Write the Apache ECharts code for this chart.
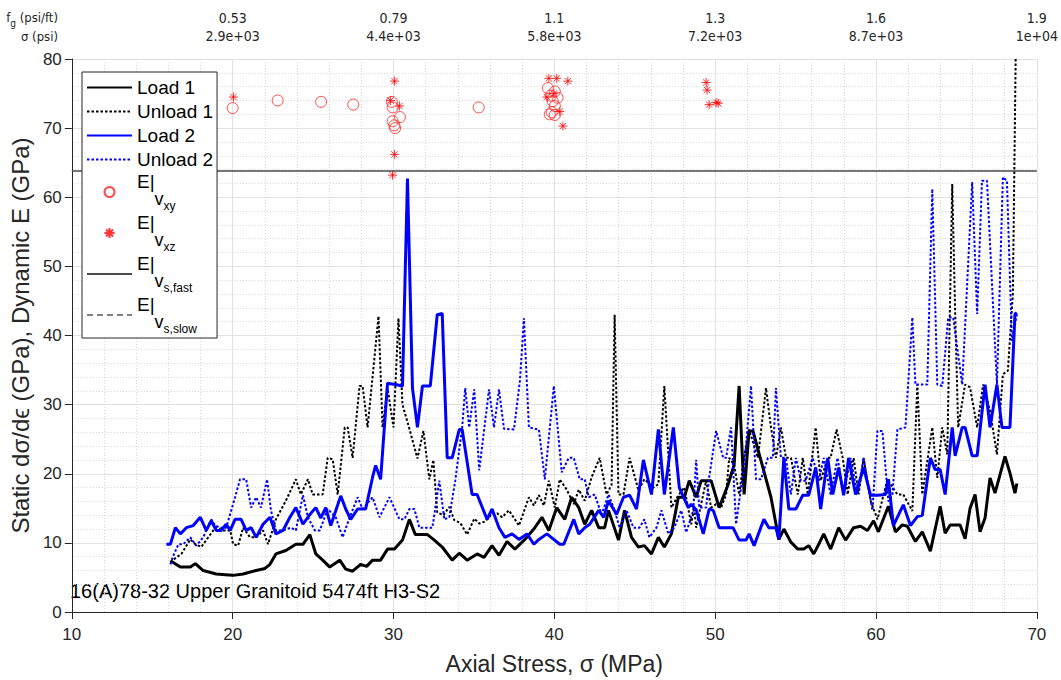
<!DOCTYPE html>
<html><head><meta charset="utf-8">
<script src="https://cdn.jsdelivr.net/npm/echarts@6/dist/echarts.min.js"></script>
<style>html,body{margin:0;padding:0;background:#fff}#c{width:1061px;height:680px}</style>
</head><body><div id="c"></div>
<script>
// ---------- data ----------
const load1X = [16.13,16.75,17.37,17.68,18.17,18.98,19.54,20.03,20.65,21.46,22.01,22.32,22.69,23.31,23.93,24.37,24.80,25.17,25.60,26.04,26.66,27.03,27.46,27.96,28.33,28.70,29.20,29.63,30.06,30.56,30.99,31.36,32.11,32.54,33.03,33.65,34.09,34.58,35.20,35.63,36.13,36.56,37.06,37.55,38.17,38.79,39.23,39.66,40.15,40.65,41.08,41.52,41.89,42.32,42.76,43.13,43.37,43.99,44.37,44.80,45.23,45.60,46.04,46.47,46.84,47.28,47.71,48.08,48.39,48.82,49.13,49.75,50.25,50.80,51.18,51.49,51.80,52.11,52.35,52.85,53.47,53.96,54.27,54.71,55.14,55.51,55.82,56.13,56.44,56.75,57.18,57.68,58.11,58.61,59.04,59.47,59.85,60.15,60.77,61.21,61.64,61.95,62.45,62.88,63.38,63.99,64.30,64.61,65.23,65.54,65.85,66.16,66.47,66.78,67.09,67.40,68.02,68.33,68.64,68.76];
const load1Y = [7.4,6.5,6.5,7.0,6.0,5.5,5.4,5.3,5.5,6.0,6.3,6.9,8.4,8.9,9.8,9.8,11.2,8.4,7.5,6.5,7.5,6.2,5.9,6.9,6.6,7.5,7.5,9.1,9.1,10.4,13.4,11.2,11.2,10.4,9.4,7.5,8.5,7.5,8.4,7.9,9.6,8.2,10.2,9.1,10.5,12.2,13.7,11.8,15.1,13.4,16.6,15.1,12.7,14.7,12.2,12.2,14.7,10.4,14.7,10.8,9.4,9.6,8.4,10.8,9.4,11.3,16.6,16.6,19.0,16.6,19.0,19.0,15.1,18.4,21.3,32.7,17.0,26.2,26.2,21.9,16.6,10.5,12.0,10.1,9.1,9.1,9.6,8.4,9.8,11.3,9.1,12.2,10.4,12.2,12.4,11.8,13.2,11.6,15.3,11.6,12.6,12.4,10.2,11.6,8.8,15.3,11.4,12.6,12.6,10.6,15.0,17.0,11.6,13.6,19.4,17.2,22.5,20.1,17.2,18.6];

const unload1X = [16.13,16.50,16.81,17.37,17.68,18.05,18.48,18.92,19.41,19.85,20.03,20.34,20.65,21.08,21.46,21.89,22.20,22.69,23.31,23.93,24.24,24.68,24.98,25.60,25.91,26.22,26.53,26.97,27.15,27.46,27.89,28.08,28.39,29.07,29.32,29.63,30.00,30.31,30.56,30.99,31.49,31.86,32.23,32.48,32.72,33.10,33.47,33.78,34.15,34.58,35.02,35.33,35.70,36.13,36.44,36.75,37.18,37.80,38.42,38.73,39.04,39.35,39.66,40.03,40.34,40.77,41.21,41.52,41.89,42.32,42.82,43.25,43.56,43.75,43.99,44.30,44.68,45.23,45.60,46.16,46.47,46.84,47.28,47.71,48.08,48.51,48.70,48.82,49.13,49.44,49.75,50.06,50.37,50.68,50.87,51.18,51.49,51.80,52.11,52.66,53.16,53.47,53.78,54.09,54.40,54.71,55.14,55.45,55.76,56.25,56.56,57.00,57.18,57.55,57.93,58.24,58.61,58.92,59.23,59.66,60.09,60.71,61.33,61.70,62.26,62.57,62.88,63.50,63.81,64.12,64.43,64.74,64.92,65.11,65.54,65.85,66.29,66.66,67.09,67.52,67.89,68.20,68.51,68.76];
const unload1Y = [7.2,7.9,8.4,10.5,9.8,9.4,10.8,12.2,11.8,11.8,9.8,9.6,12.2,10.8,10.8,11.8,9.8,13.4,16.1,19.2,17.0,19.2,17.0,17.0,22.3,22.1,17.0,26.7,26.7,22.3,32.7,32.7,26.7,42.8,26.7,32.4,26.7,42.5,30.0,26.5,22.2,26.2,19.2,22.0,14.4,14.0,15.2,13.3,12.9,11.2,13.5,12.8,13.1,14.2,14.3,13.7,14.7,12.5,16.6,15.4,16.9,15.4,19.0,15.1,19.2,17.7,15.6,17.7,16.1,19.5,22.3,17.0,18.4,43.0,17.0,17.0,22.3,17.6,19.2,18.0,18.5,32.7,15.1,16.9,18.0,12.7,15.1,12.2,15.6,19.0,15.1,15.6,15.1,17.0,22.3,21.3,17.0,22.3,26.4,22.3,32.4,26.7,22.3,26.7,22.3,22.3,17.0,22.3,17.0,26.7,19.0,22.3,22.3,26.4,22.3,17.0,22.3,17.0,22.3,16.1,13.4,19.2,17.0,17.0,14.6,32.9,17.0,26.7,19.4,26.7,22.8,61.9,43.6,26.7,32.9,32.5,26.7,32.9,29.1,22.8,34.4,34.9,46.0,95];

const load2X = [15.88,16.13,16.44,16.75,17.12,17.55,17.99,18.36,18.67,18.98,19.29,19.60,19.85,20.15,20.53,20.84,21.15,21.46,21.89,22.32,22.69,23.13,23.56,23.93,24.37,24.80,25.17,25.48,25.79,26.10,26.72,27.03,27.34,27.77,28.27,28.70,28.89,29.20,29.63,30.12,30.56,30.87,31.18,31.49,31.80,32.29,32.72,33.03,33.34,33.65,34.09,34.27,34.89,35.20,35.82,36.13,36.56,36.93,37.37,37.80,38.30,38.73,39.04,39.54,40.34,40.59,41.21,41.52,41.89,42.20,42.76,43.07,43.37,43.87,44.30,44.68,45.11,45.54,46.04,46.47,46.84,47.40,47.77,48.33,48.51,48.82,49.26,49.63,49.88,50.25,51.11,51.49,51.92,52.11,52.42,53.03,53.34,53.78,53.96,54.27,54.58,55.02,55.45,55.82,56.25,56.56,57.00,57.31,57.68,57.99,58.30,58.73,59.23,59.66,60.09,60.59,60.77,61.08,61.70,62.14,62.57,62.88,63.38,63.68,63.99,64.30,64.74,64.92,65.36,65.54,65.98,66.29,66.78,67.09,67.52,67.83,68.33,68.64,68.76];
const load2Y = [9.8,9.8,12.2,11.3,12.2,12.5,13.7,11.8,13.2,11.8,11.8,12.7,11.8,13.4,13.4,11.8,12.2,10.8,12.7,13.7,11.3,11.8,13.7,15.1,12.7,14.1,15.1,13.6,15.1,12.5,16.8,14.9,13.4,14.9,14.9,19.5,21.2,19.2,33.1,32.9,32.7,62.7,32.4,26.7,32.7,32.7,43.0,43.2,22.3,22.3,26.4,26.4,17.0,17.0,13.4,14.9,12.2,10.8,11.3,10.5,11.3,9.8,10.5,11.3,9.8,9.8,13.4,11.3,12.2,12.7,14.7,13.7,16.1,14.1,16.6,16.9,14.9,22.0,17.0,26.4,17.0,26.7,18.0,15.1,15.6,14.8,11.3,14.9,14.7,12.2,12.2,10.4,10.4,11.3,9.6,13.4,12.2,12.2,10.5,22.3,14.9,14.9,16.9,16.9,20.9,14.9,22.3,17.0,20.9,16.9,22.3,17.0,20.9,16.9,16.9,17.0,19.2,12.5,15.5,12.5,13.8,14.0,22.3,20.6,20.6,17.0,26.7,22.6,26.7,26.7,22.6,22.6,32.9,26.7,32.9,26.7,26.7,43.1,43.3];

const unload2X = [16.13,16.32,16.63,16.93,17.37,17.74,18.17,18.67,18.92,19.23,19.60,20.15,20.46,20.84,21.15,21.46,21.76,22.14,22.38,22.69,23.13,23.62,23.93,24.37,24.68,25.11,25.42,25.91,26.41,26.84,27.28,27.77,28.08,28.70,29.13,29.75,30.37,30.68,30.99,31.30,31.61,32.42,32.85,33.16,33.47,33.84,34.27,34.46,34.71,35.02,35.33,35.94,36.25,36.56,36.87,37.49,37.86,38.11,38.42,39.04,39.41,39.97,40.46,40.90,41.21,41.58,41.89,42.14,42.51,42.94,43.37,43.75,44.06,44.49,44.92,45.29,45.60,45.91,46.35,46.66,47.09,47.46,47.89,48.20,48.64,48.82,49.01,49.44,49.63,50.06,50.50,50.68,50.99,51.30,51.61,51.80,52.23,52.54,52.85,53.28,53.59,53.78,54.09,54.40,54.71,55.02,55.33,55.63,56.07,56.44,56.75,57.18,57.61,57.99,58.42,58.85,59.23,59.78,60.09,60.40,60.77,61.02,61.33,61.83,62.26,62.45,63.19,63.50,63.81,64.12,64.49,64.80,65.36,65.98,66.29,66.59,66.90,67.52,67.89,68.14,68.45,68.76];
const unload2Y = [6.9,8.2,9.8,9.8,10.8,9.6,10.8,13.4,12.5,12.2,12.2,16.6,19.2,19.2,15.1,16.6,15.1,19.2,14.7,11.8,11.8,12.2,11.8,16.9,13.7,11.8,11.8,14.9,13.7,10.8,13.7,16.6,14.9,16.6,13.7,16.6,13.4,13.4,14.9,14.9,12.2,12.2,19.0,13.4,13.7,19.0,26.7,32.4,26.7,32.2,20.5,32.2,26.7,32.2,26.5,26.4,33.4,42.5,26.7,26.4,19.2,32.7,20.2,22.3,22.3,19.2,19.2,16.6,17.0,14.1,17.0,14.7,12.2,14.7,12.2,12.2,13.4,10.8,12.2,14.7,11.3,12.2,14.7,11.5,14.7,22.0,15.1,15.1,19.5,26.2,22.3,22.3,26.7,12.7,18.0,20.9,32.7,19.2,19.2,22.3,22.3,32.4,22.3,22.3,17.0,22.3,19.0,19.0,22.3,19.0,22.3,17.0,22.3,17.0,22.3,17.0,22.3,14.7,26.2,26.2,16.0,17.0,26.4,26.7,42.6,32.9,32.9,61.2,32.9,32.7,42.6,42.6,32.9,62.2,43.1,62.4,62.4,32.9,62.9,62.4,39.2,43.1];

const vxyX = [20.0,22.8,25.5,27.5,29.9,29.95,29.95,30.05,30.1,30.4,35.3,39.6,40.03,39.78,40.2,39.9,40.03,39.84,40.03,39.72];
const vxyY = [72.9,74.0,73.8,73.4,73.8,73.0,71.0,70.4,70.0,71.6,73.0,75.8,75.3,74.7,74.4,73.9,73.2,72.3,71.9,72.0];
const vxzX = [20.05,30.06,29.81,30.37,30.06,29.94,39.66,40.15,40.84,39.54,40.34,40.53,39.97,49.44,49.5,49.63,50.06,50.19];
const vxzY = [74.5,76.8,74.0,73.2,66.2,63.2,77.2,77.2,76.8,74.5,72.4,70.3,75.0,76.6,75.5,73.4,73.7,73.6];
const vsFastE = 63.8;

const xRange = [10, 70];
const topTickVals = [20, 30, 40, 50, 60, 70];
const fgLabels = ['0.53', '0.79', '1.1', '1.3', '1.6', '1.9'];
const sigmaPsiLabels = ['2.9e+03', '4.4e+03', '5.8e+03', '7.2e+03', '8.7e+03', '1e+04'];
const seriesNames = ['Load 1', 'Unload 1', 'Load 2', 'Unload 2', 'E|vxy', 'E|vxz', 'E|vs,fast', 'E|vs,slow'];
const legendSubs = {'E|vxy': 'xy', 'E|vxz': 'xz', 'E|vs,fast': 's,fast', 'E|vs,slow': 's,slow'};
const sampleLabel = '16(A)78-32 Upper Granitoid 5474ft H3-S2';

// ---------- chart ----------
const FONT = '"Liberation Sans", Arial, Helvetica, sans-serif';
const NARROW = '"Liberation Sans Narrow", "DejaVu Sans Condensed", "Liberation Sans", sans-serif';
const zip = (xs, ys) => xs.map((x, i) => [x, ys[i]]);
const chart = echarts.init(document.getElementById('c'), null, {renderer: 'svg'});
const AX = '#262626';
const dotted = [2.5, 2];
const lineSeriesNames = [seriesNames[0], seriesNames[1], seriesNames[2], seriesNames[3], seriesNames[6], seriesNames[7]];

const option = {
  animation: false,
  backgroundColor: '#fff',
  textStyle: {fontFamily: FONT},
  grid: {left: 68, right: 24, top: 59, bottom: 66},
  xAxis: [{
    type: 'value', min: xRange[0], max: xRange[1], interval: 10, position: 'bottom',
    name: 'Axial Stress, σ (MPa)', nameLocation: 'middle', nameGap: 40,
    nameTextStyle: {fontSize: 23, color: AX, fontFamily: FONT},
    axisLine: {show: true, onZero: false, lineStyle: {color: AX, width: 1}},
    axisTick: {show: true, inside: false, length: 7, lineStyle: {color: AX}},
    axisLabel: {fontSize: 17, color: AX, margin: 14, fontFamily: FONT},
    splitLine: {show: true, lineStyle: {color: '#e2e2e2', width: 1}},
    minorTick: {show: false, splitNumber: 5},
    minorSplitLine: {show: true, lineStyle: {color: '#d6d6d6', type: [1, 2], width: 1}}
  }, {
    type: 'value', min: xRange[0], max: xRange[1], interval: 10, position: 'top',
    axisLine: {show: false}, axisTick: {show: false}, splitLine: {show: false},
    axisLabel: {
      fontSize: 14, color: AX, lineHeight: 18, margin: 14, fontFamily: NARROW,
      formatter: v => {
        const i = topTickVals.indexOf(v);
        return i < 0 ? '' : fgLabels[i] + '\n' + sigmaPsiLabels[i];
      }
    }
  }],
  yAxis: {
    type: 'value', min: 0, max: 80, interval: 10,
    name: 'Static dσ/dϵ (GPa), Dynamic E (GPa)', nameLocation: 'middle', nameGap: 34, nameRotate: 90,
    nameTextStyle: {fontSize: 24, color: AX, fontFamily: FONT},
    axisLine: {show: true, onZero: false, lineStyle: {color: AX, width: 1}},
    axisTick: {show: true, inside: false, length: 7, lineStyle: {color: AX}},
    axisLabel: {fontSize: 17, color: AX, margin: 10, fontFamily: FONT},
    splitLine: {show: true, lineStyle: {color: '#e2e2e2', width: 1}},
    minorTick: {show: false, splitNumber: 5},
    minorSplitLine: {show: true, lineStyle: {color: '#d6d6d6', type: [1, 2], width: 1}}
  },
  legend: {
    orient: 'vertical', left: 82, top: 72,
    padding: [4, 4, 3, 4], itemGap: 1, itemWidth: 45, itemHeight: 10,
    backgroundColor: '#fff', borderColor: AX, borderWidth: 1, borderRadius: 0,
    data: seriesNames.map(n => lineSeriesNames.includes(n) ? {name: n, itemStyle: {opacity: 0}} : {name: n}),
    formatter: name => legendSubs[name] ? '{e|E|}{v|v}{s|' + legendSubs[name] + '}' : name,
    textStyle: {
      fontSize: 19, lineHeight: 23, color: '#000', fontFamily: FONT,
      rich: {
        e: {fontSize: 19, fontFamily: FONT, color: '#000', padding: [0, 0, 21, 0]},
        v: {fontSize: 18, fontFamily: FONT, color: '#000', padding: [14, 0, 0, 0]},
        s: {fontSize: 12, fontFamily: FONT, color: '#000', padding: [28, 0, 0, 0], lineHeight: 40}
      }
    }
  },
  graphic: [
    {type: 'text', left: 70, top: 581, silent: true,
      style: {text: sampleLabel, fontSize: 20, fill: '#000', fontFamily: FONT}},
    {type: 'text', x: 58, y: 11, silent: true,
      style: {text: '{a|f}{b|g}{a| (psi/ft)}', align: 'right', fill: AX,
        rich: {a: {fontSize: 13, fontFamily: NARROW, fill: AX, verticalAlign: 'top'},
               b: {fontSize: 10, fontFamily: NARROW, fill: AX, verticalAlign: 'top', padding: [7, 0, 0, 0]}}}},
    {type: 'text', x: 58, y: 30, silent: true,
      style: {text: 'σ (psi)', align: 'right', fill: AX, fontSize: 13, fontFamily: NARROW}}
  ],
  series: [
    {name: seriesNames[0], type: 'line', data: zip(load1X, load1Y), showSymbol: false, symbol: 'none',
      lineStyle: {color: '#000', width: 3}, itemStyle: {color: '#000'}, z: 2},
    {name: seriesNames[1], type: 'line', data: zip(unload1X, unload1Y), showSymbol: false, symbol: 'none',
      lineStyle: {color: '#000', width: 2, type: dotted}, itemStyle: {color: '#000'}, z: 2},
    {name: seriesNames[2], type: 'line', data: zip(load2X, load2Y), showSymbol: false, symbol: 'none',
      lineStyle: {color: '#0000ff', width: 3}, itemStyle: {color: '#0000ff'}, z: 2},
    {name: seriesNames[3], type: 'line', data: zip(unload2X, unload2Y), showSymbol: false, symbol: 'none',
      lineStyle: {color: '#0000ff', width: 2, type: dotted}, itemStyle: {color: '#0000ff'}, z: 2},
    {name: seriesNames[4], type: 'scatter', data: zip(vxyX, vxyY), symbol: 'circle', symbolSize: 11,
      itemStyle: {color: 'rgba(0,0,0,0)', borderColor: '#ff2020', borderWidth: 1}, z: 3},
    {name: seriesNames[5], type: 'scatter', data: zip(vxzX, vxzY),
      symbol: 'path://M5,0L5,10M0,5L10,5M1.5,1.5L8.5,8.5M1.5,8.5L8.5,1.5', symbolSize: 9,
      itemStyle: {color: '#ff0000', borderColor: '#ff0000', borderWidth: 1}, z: 3},
    {name: seriesNames[6], type: 'line', data: xRange.map(x => [x, vsFastE]), showSymbol: false, symbol: 'none',
      lineStyle: {color: '#4a4a4a', width: 1.3}, itemStyle: {color: '#222'}, z: 1},
    {name: seriesNames[7], type: 'line', data: [], showSymbol: false, symbol: 'none',
      lineStyle: {color: '#808080', width: 1.3, type: [6, 4]}, itemStyle: {color: '#808080'}, z: 1}
  ]
};
chart.setOption(option);
</script>
</body></html>
